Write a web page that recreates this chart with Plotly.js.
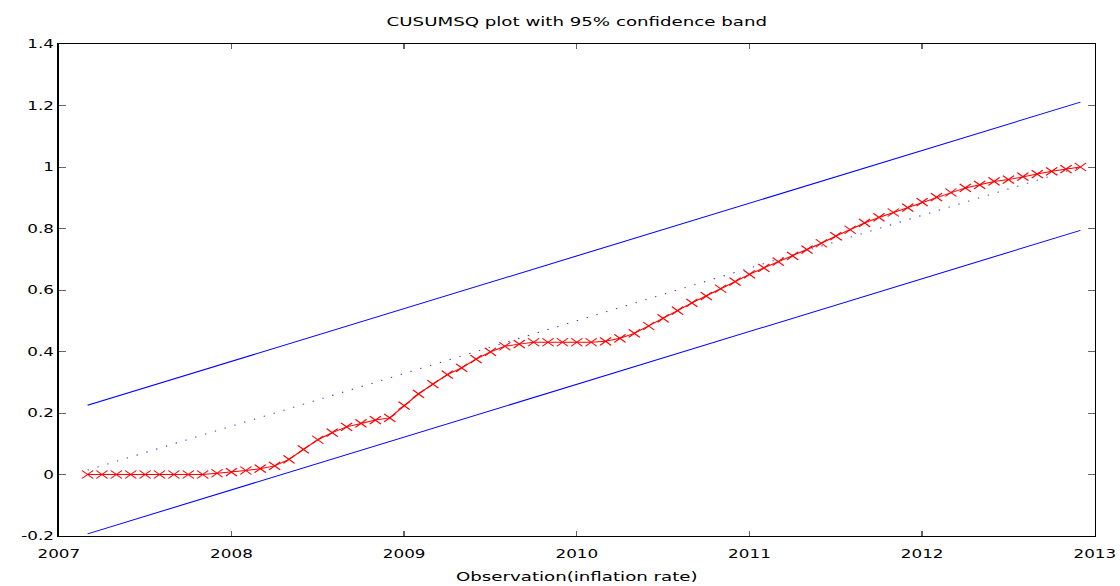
<!DOCTYPE html>
<html><head><meta charset="utf-8">
<script src="https://cdn.plot.ly/plotly-3.0.1.min.js"></script>
<style>
html,body{margin:0;padding:0;background:#fff;overflow:hidden;}
#wrap{width:1120px;height:586px;overflow:hidden;}
#chart{width:800px;height:586px;transform:scaleX(1.4);transform-origin:0 0;}
</style></head><body><div id="wrap"><div id="chart"></div></div>
<script>
// Monthly observations, 2007:03 .. 2012:12
const startYear = 2007;
const startMonth = 3;
const cusumsq = [
  0, 0, 0, 0, 0, 0, 0, 0, 0, 0.004,
  0.008, 0.013, 0.019, 0.028, 0.049, 0.082, 0.113, 0.136, 0.155, 0.166, 0.177, 0.184,
  0.224, 0.262, 0.294, 0.325, 0.347, 0.375, 0.399, 0.417, 0.424, 0.430, 0.430, 0.430,
  0.430, 0.430, 0.433, 0.443, 0.459, 0.483, 0.508, 0.533, 0.558, 0.580, 0.604, 0.627,
  0.651, 0.672, 0.692, 0.711, 0.731, 0.752, 0.775, 0.796, 0.818, 0.836, 0.852, 0.868,
  0.886, 0.902, 0.917, 0.932, 0.942, 0.953, 0.959, 0.969, 0.977, 0.986, 0.993, 1.000
];
const bandX = [2007.1667, 2012.9167];
const upperBand = [0.225, 1.211];
const lowerBand = [-0.193, 0.794];
const expectedLine = [0.0143, 1.0];
const xTickVals = [2007, 2008, 2009, 2010, 2011, 2012, 2013];
const xTickText = ['2007', '2008', '2009', '2010', '2011', '2012', '2013'];
const yTickVals = [-0.2, 0, 0.2, 0.4, 0.6, 0.8, 1, 1.2, 1.4];
const yTickText = ['-0.2', '0', '0.2', '0.4', '0.6', '0.8', '1', '1.2', '1.4'];
const titleText = 'CUSUMSQ plot with 95% confidence band';
const xTitleText = 'Observation(inflation rate)';

const obsX = cusumsq.map((_, i) => startYear + (startMonth - 1 + i) / 12);

const font = {family: 'DejaVu Sans, Verdana, sans-serif', color: '#000'};

const traces = [
  {x: bandX, y: upperBand, type: 'scatter', mode: 'lines',
   line: {color: '#0000ff', width: 1}, hoverinfo: 'skip', showlegend: false},
  {x: bandX, y: lowerBand, type: 'scatter', mode: 'lines',
   line: {color: '#0000ff', width: 1}, hoverinfo: 'skip', showlegend: false},
  {x: bandX, y: expectedLine, type: 'scatter', mode: 'lines',
   line: {color: '#3030ff', width: 1, dash: '1px,6.6px'}, hoverinfo: 'skip', showlegend: false},
  {x: obsX, y: cusumsq, type: 'scatter', mode: 'lines+markers',
   line: {color: '#ff0000', width: 1},
   marker: {symbol: 'x-thin', size: 8, color: '#ff0000', line: {color: '#ff0000', width: 1}},
   showlegend: false}
];

const axisCommon = {
  showgrid: false, zeroline: false, showline: true, linecolor: '#000', linewidth: 1,
  mirror: 'allticks', ticks: 'inside', ticklen: 5, tickcolor: '#666', tickwidth: 1,
  tickmode: 'array', tickfont: Object.assign({size: 12}, font)
};

const layout = {
  width: 800, height: 586,
  margin: {l: 42, r: 18, t: 44, b: 50},
  paper_bgcolor: '#fff', plot_bgcolor: '#fff',
  font: font,
  showlegend: false,
  title: {text: titleText, font: Object.assign({size: 13}, font),
          x: 0.5, xref: 'paper', xanchor: 'center', y: 0.963, yref: 'container', yanchor: 'middle'},
  xaxis: Object.assign({}, axisCommon, {
    range: [2007, 2013], tickvals: xTickVals, ticktext: xTickText,
    ticklabelstandoff: 7,
    title: {text: xTitleText, font: Object.assign({size: 13}, font), standoff: 11}
  }),
  yaxis: Object.assign({}, axisCommon, {
    range: [-0.2, 1.4], tickvals: yTickVals, ticktext: yTickText,
    ticklabelstandoff: 4.5
  })
};

Plotly.newPlot('chart', traces, layout, {displayModeBar: false, staticPlot: true});
</script></body></html>
